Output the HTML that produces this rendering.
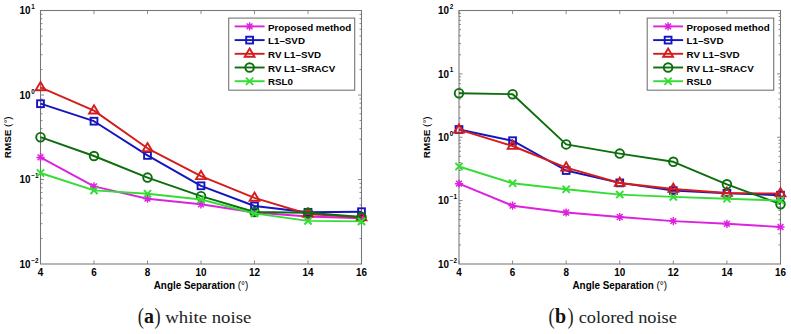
<!DOCTYPE html>
<html><head><meta charset="utf-8"><style>
html,body{margin:0;padding:0;background:#fff;width:791px;height:334px;overflow:hidden}
svg{display:block}
.tk{font-family:"Liberation Sans",sans-serif;font-weight:bold;font-size:9.9px;fill:#000}
.sup{font-family:"Liberation Sans",sans-serif;font-weight:bold;font-size:6.3px;fill:#000}
.lab{font-family:"Liberation Sans",sans-serif;font-weight:bold;font-size:9.9px;fill:#000}
.leg{font-family:"Liberation Sans",sans-serif;font-weight:bold;font-size:9.8px;fill:#000}
.cap{font-family:"Liberation Serif",serif;font-size:16.4px;fill:#222}
.capb{font-family:"Liberation Serif",serif;font-size:20px;font-weight:bold;fill:#111}
.par{font-family:"Liberation Serif",serif;font-size:20px;fill:#222}
.capl{font-family:"Liberation Serif",serif;font-size:20px;fill:#111}
</style></head><body>
<svg width="791" height="334" viewBox="0 0 791 334">
<rect width="791" height="334" fill="#fff"/>
<path d="M40.50 264.00v-3.5M40.50 10.50v3.5M94.00 264.00v-3.5M94.00 10.50v3.5M147.50 264.00v-3.5M147.50 10.50v3.5M201.00 264.00v-3.5M201.00 10.50v3.5M254.50 264.00v-3.5M254.50 10.50v3.5M308.00 264.00v-3.5M308.00 10.50v3.5M361.50 264.00v-3.5M361.50 10.50v3.5M40.50 69.56h2M361.50 69.56h-2M40.50 54.68h2M361.50 54.68h-2M40.50 44.13h2M361.50 44.13h-2M40.50 35.94h2M361.50 35.94h-2M40.50 29.25h2M361.50 29.25h-2M40.50 23.59h2M361.50 23.59h-2M40.50 18.69h2M361.50 18.69h-2M40.50 14.37h2M361.50 14.37h-2M40.50 95.00h3.5M361.50 95.00h-3.5M40.50 154.06h2M361.50 154.06h-2M40.50 139.18h2M361.50 139.18h-2M40.50 128.63h2M361.50 128.63h-2M40.50 120.44h2M361.50 120.44h-2M40.50 113.75h2M361.50 113.75h-2M40.50 108.09h2M361.50 108.09h-2M40.50 103.19h2M361.50 103.19h-2M40.50 98.87h2M361.50 98.87h-2M40.50 179.50h3.5M361.50 179.50h-3.5M40.50 238.56h2M361.50 238.56h-2M40.50 223.68h2M361.50 223.68h-2M40.50 213.13h2M361.50 213.13h-2M40.50 204.94h2M361.50 204.94h-2M40.50 198.25h2M361.50 198.25h-2M40.50 192.59h2M361.50 192.59h-2M40.50 187.69h2M361.50 187.69h-2M40.50 183.37h2M361.50 183.37h-2" stroke="#8a8a8a" stroke-width="1" fill="none"/>
<rect x="40.5" y="10.5" width="321.00" height="253.50" stroke="#767676" stroke-width="1.05" fill="none"/>
<text transform="translate(40.50 276.4) scale(1 1.01)" text-anchor="middle" class="tk">4</text>
<text transform="translate(94.00 276.4) scale(1 1.01)" text-anchor="middle" class="tk">6</text>
<text transform="translate(147.50 276.4) scale(1 1.01)" text-anchor="middle" class="tk">8</text>
<text transform="translate(201.00 276.4) scale(1 1.01)" text-anchor="middle" class="tk">10</text>
<text transform="translate(254.50 276.4) scale(1 1.01)" text-anchor="middle" class="tk">12</text>
<text transform="translate(308.00 276.4) scale(1 1.01)" text-anchor="middle" class="tk">14</text>
<text transform="translate(361.50 276.4) scale(1 1.01)" text-anchor="middle" class="tk">16</text>
<text transform="translate(30.50 14.30) scale(1 1.01)" text-anchor="end" class="tk">10</text>
<text transform="translate(31.20 9.00) scale(1 1.01)" class="sup">1</text>
<text transform="translate(30.50 98.80) scale(1 1.01)" text-anchor="end" class="tk">10</text>
<text transform="translate(31.20 93.50) scale(1 1.01)" class="sup">0</text>
<text transform="translate(30.50 183.30) scale(1 1.01)" text-anchor="end" class="tk">10</text>
<text transform="translate(31.20 178.00) scale(1 1.01)" class="sup">−1</text>
<text transform="translate(30.50 267.80) scale(1 1.01)" text-anchor="end" class="tk">10</text>
<text transform="translate(31.20 262.50) scale(1 1.01)" class="sup">−2</text>
<text transform="translate(201.00 288.5) scale(1 1.01)" text-anchor="middle" class="lab">Angle Separation <tspan font-weight="normal">(°)</tspan></text>
<text transform="translate(11.10 137.25) rotate(-90)" x="0" y="0" text-anchor="middle" class="lab">RMSE <tspan font-weight="normal">(°)</tspan></text>
<polyline points="40.50,157.40 94.00,186.40 147.50,198.70 201.00,204.30 254.50,212.50 308.00,216.50 361.50,218.20" stroke="#dd22dd" stroke-width="1.9" fill="none" stroke-linejoin="round"/>
<path d="M36.40 157.40H44.60M40.50 153.30V161.50M37.60 154.50L43.40 160.30M37.60 160.30L43.40 154.50" stroke="#dd22dd" stroke-width="1.45" fill="none"/>
<path d="M89.90 186.40H98.10M94.00 182.30V190.50M91.10 183.50L96.90 189.30M91.10 189.30L96.90 183.50" stroke="#dd22dd" stroke-width="1.45" fill="none"/>
<path d="M143.40 198.70H151.60M147.50 194.60V202.80M144.60 195.80L150.40 201.60M144.60 201.60L150.40 195.80" stroke="#dd22dd" stroke-width="1.45" fill="none"/>
<path d="M196.90 204.30H205.10M201.00 200.20V208.40M198.10 201.40L203.90 207.20M198.10 207.20L203.90 201.40" stroke="#dd22dd" stroke-width="1.45" fill="none"/>
<path d="M250.40 212.50H258.60M254.50 208.40V216.60M251.60 209.60L257.40 215.40M251.60 215.40L257.40 209.60" stroke="#dd22dd" stroke-width="1.45" fill="none"/>
<path d="M303.90 216.50H312.10M308.00 212.40V220.60M305.10 213.60L310.90 219.40M305.10 219.40L310.90 213.60" stroke="#dd22dd" stroke-width="1.45" fill="none"/>
<path d="M357.40 218.20H365.60M361.50 214.10V222.30M358.60 215.30L364.40 221.10M358.60 221.10L364.40 215.30" stroke="#dd22dd" stroke-width="1.45" fill="none"/>
<polyline points="40.50,103.70 94.00,121.20 147.50,155.40 201.00,185.80 254.50,206.00 308.00,212.30 361.50,211.70" stroke="#1414c0" stroke-width="1.9" fill="none" stroke-linejoin="round"/>
<rect x="37.10" y="100.30" width="6.80" height="6.80" stroke="#1414c0" stroke-width="1.9" fill="none"/>
<rect x="90.60" y="117.80" width="6.80" height="6.80" stroke="#1414c0" stroke-width="1.9" fill="none"/>
<rect x="144.10" y="152.00" width="6.80" height="6.80" stroke="#1414c0" stroke-width="1.9" fill="none"/>
<rect x="197.60" y="182.40" width="6.80" height="6.80" stroke="#1414c0" stroke-width="1.9" fill="none"/>
<rect x="251.10" y="202.60" width="6.80" height="6.80" stroke="#1414c0" stroke-width="1.9" fill="none"/>
<rect x="304.60" y="208.90" width="6.80" height="6.80" stroke="#1414c0" stroke-width="1.9" fill="none"/>
<rect x="358.10" y="208.30" width="6.80" height="6.80" stroke="#1414c0" stroke-width="1.9" fill="none"/>
<polyline points="40.50,87.30 94.00,110.60 147.50,148.30 201.00,176.20 254.50,197.90 308.00,214.00 361.50,217.30" stroke="#d41c1c" stroke-width="1.9" fill="none" stroke-linejoin="round"/>
<path d="M40.50 82.00L45.40 90.20H35.60Z" stroke="#d41c1c" stroke-width="1.9" fill="none" stroke-linejoin="miter"/>
<path d="M94.00 105.30L98.90 113.50H89.10Z" stroke="#d41c1c" stroke-width="1.9" fill="none" stroke-linejoin="miter"/>
<path d="M147.50 143.00L152.40 151.20H142.60Z" stroke="#d41c1c" stroke-width="1.9" fill="none" stroke-linejoin="miter"/>
<path d="M201.00 170.90L205.90 179.10H196.10Z" stroke="#d41c1c" stroke-width="1.9" fill="none" stroke-linejoin="miter"/>
<path d="M254.50 192.60L259.40 200.80H249.60Z" stroke="#d41c1c" stroke-width="1.9" fill="none" stroke-linejoin="miter"/>
<path d="M308.00 208.70L312.90 216.90H303.10Z" stroke="#d41c1c" stroke-width="1.9" fill="none" stroke-linejoin="miter"/>
<path d="M361.50 212.00L366.40 220.20H356.60Z" stroke="#d41c1c" stroke-width="1.9" fill="none" stroke-linejoin="miter"/>
<polyline points="40.50,137.20 94.00,156.00 147.50,177.60 201.00,196.20 254.50,212.00 308.00,212.80 361.50,217.00" stroke="#0c6e0c" stroke-width="1.9" fill="none" stroke-linejoin="round"/>
<circle cx="40.50" cy="137.20" r="4.3" stroke="#0c6e0c" stroke-width="1.9" fill="none"/>
<circle cx="94.00" cy="156.00" r="4.3" stroke="#0c6e0c" stroke-width="1.9" fill="none"/>
<circle cx="147.50" cy="177.60" r="4.3" stroke="#0c6e0c" stroke-width="1.9" fill="none"/>
<circle cx="201.00" cy="196.20" r="4.3" stroke="#0c6e0c" stroke-width="1.9" fill="none"/>
<circle cx="254.50" cy="212.00" r="4.3" stroke="#0c6e0c" stroke-width="1.9" fill="none"/>
<circle cx="308.00" cy="212.80" r="4.3" stroke="#0c6e0c" stroke-width="1.9" fill="none"/>
<circle cx="361.50" cy="217.00" r="4.3" stroke="#0c6e0c" stroke-width="1.9" fill="none"/>
<polyline points="40.50,173.00 94.00,190.40 147.50,193.70 201.00,199.50 254.50,213.40 308.00,220.90 361.50,221.40" stroke="#33dd33" stroke-width="1.9" fill="none" stroke-linejoin="round"/>
<path d="M36.90 169.40L44.10 176.60M36.90 176.60L44.10 169.40" stroke="#33dd33" stroke-width="1.9" fill="none"/>
<path d="M90.40 186.80L97.60 194.00M90.40 194.00L97.60 186.80" stroke="#33dd33" stroke-width="1.9" fill="none"/>
<path d="M143.90 190.10L151.10 197.30M143.90 197.30L151.10 190.10" stroke="#33dd33" stroke-width="1.9" fill="none"/>
<path d="M197.40 195.90L204.60 203.10M197.40 203.10L204.60 195.90" stroke="#33dd33" stroke-width="1.9" fill="none"/>
<path d="M250.90 209.80L258.10 217.00M250.90 217.00L258.10 209.80" stroke="#33dd33" stroke-width="1.9" fill="none"/>
<path d="M304.40 217.30L311.60 224.50M304.40 224.50L311.60 217.30" stroke="#33dd33" stroke-width="1.9" fill="none"/>
<path d="M357.90 217.80L365.10 225.00M357.90 225.00L365.10 217.80" stroke="#33dd33" stroke-width="1.9" fill="none"/>
<rect x="228.70" y="18.1" width="126.00" height="72.10" stroke="#767676" stroke-width="1.1" fill="#fff"/>
<path d="M234.70 26.40H264.60" stroke="#dd22dd" stroke-width="1.9"/>
<path d="M245.50 26.40H253.70M249.60 22.30V30.50M246.70 23.50L252.50 29.30M246.70 29.30L252.50 23.50" stroke="#dd22dd" stroke-width="1.45" fill="none"/>
<text transform="translate(268.00 30.60) scale(1 1.01)" class="leg">Proposed method</text>
<path d="M234.70 40.10H264.60" stroke="#1414c0" stroke-width="1.9"/>
<rect x="246.20" y="36.70" width="6.80" height="6.80" stroke="#1414c0" stroke-width="1.9" fill="none"/>
<text transform="translate(268.00 44.30) scale(1 1.01)" class="leg">L1–SVD</text>
<path d="M234.70 53.80H264.60" stroke="#d41c1c" stroke-width="1.9"/>
<path d="M249.60 48.50L254.50 56.70H244.70Z" stroke="#d41c1c" stroke-width="1.9" fill="none" stroke-linejoin="miter"/>
<text transform="translate(268.00 58.00) scale(1 1.01)" class="leg">RV L1–SVD</text>
<path d="M234.70 67.50H264.60" stroke="#0c6e0c" stroke-width="1.9"/>
<circle cx="249.60" cy="67.50" r="4.3" stroke="#0c6e0c" stroke-width="1.9" fill="none"/>
<text transform="translate(268.00 71.70) scale(1 1.01)" class="leg">RV L1–SRACV</text>
<path d="M234.70 81.20H264.60" stroke="#33dd33" stroke-width="1.9"/>
<path d="M246.00 77.60L253.20 84.80M246.00 84.80L253.20 77.60" stroke="#33dd33" stroke-width="1.9" fill="none"/>
<text transform="translate(268.00 85.40) scale(1 1.01)" class="leg">RSL0</text>
<path d="M459.00 264.00v-3.5M459.00 10.50v3.5M512.58 264.00v-3.5M512.58 10.50v3.5M566.17 264.00v-3.5M566.17 10.50v3.5M619.75 264.00v-3.5M619.75 10.50v3.5M673.33 264.00v-3.5M673.33 10.50v3.5M726.92 264.00v-3.5M726.92 10.50v3.5M780.50 264.00v-3.5M780.50 10.50v3.5M459.00 54.80h2M780.50 54.80h-2M459.00 43.64h2M780.50 43.64h-2M459.00 35.72h2M780.50 35.72h-2M459.00 29.58h2M780.50 29.58h-2M459.00 24.56h2M780.50 24.56h-2M459.00 20.32h2M780.50 20.32h-2M459.00 16.64h2M780.50 16.64h-2M459.00 13.40h2M780.50 13.40h-2M459.00 73.88h3.5M780.50 73.88h-3.5M459.00 118.17h2M780.50 118.17h-2M459.00 107.01h2M780.50 107.01h-2M459.00 99.09h2M780.50 99.09h-2M459.00 92.95h2M780.50 92.95h-2M459.00 87.93h2M780.50 87.93h-2M459.00 83.69h2M780.50 83.69h-2M459.00 80.02h2M780.50 80.02h-2M459.00 76.77h2M780.50 76.77h-2M459.00 137.25h3.5M780.50 137.25h-3.5M459.00 181.55h2M780.50 181.55h-2M459.00 170.39h2M780.50 170.39h-2M459.00 162.47h2M780.50 162.47h-2M459.00 156.33h2M780.50 156.33h-2M459.00 151.31h2M780.50 151.31h-2M459.00 147.07h2M780.50 147.07h-2M459.00 143.39h2M780.50 143.39h-2M459.00 140.15h2M780.50 140.15h-2M459.00 200.62h3.5M780.50 200.62h-3.5M459.00 244.92h2M780.50 244.92h-2M459.00 233.76h2M780.50 233.76h-2M459.00 225.84h2M780.50 225.84h-2M459.00 219.70h2M780.50 219.70h-2M459.00 214.68h2M780.50 214.68h-2M459.00 210.44h2M780.50 210.44h-2M459.00 206.77h2M780.50 206.77h-2M459.00 203.52h2M780.50 203.52h-2" stroke="#8a8a8a" stroke-width="1" fill="none"/>
<rect x="459.0" y="10.5" width="321.50" height="253.50" stroke="#767676" stroke-width="1.05" fill="none"/>
<text transform="translate(459.00 276.4) scale(1 1.01)" text-anchor="middle" class="tk">4</text>
<text transform="translate(512.58 276.4) scale(1 1.01)" text-anchor="middle" class="tk">6</text>
<text transform="translate(566.17 276.4) scale(1 1.01)" text-anchor="middle" class="tk">8</text>
<text transform="translate(619.75 276.4) scale(1 1.01)" text-anchor="middle" class="tk">10</text>
<text transform="translate(673.33 276.4) scale(1 1.01)" text-anchor="middle" class="tk">12</text>
<text transform="translate(726.92 276.4) scale(1 1.01)" text-anchor="middle" class="tk">14</text>
<text transform="translate(780.50 276.4) scale(1 1.01)" text-anchor="middle" class="tk">16</text>
<text transform="translate(449.00 14.30) scale(1 1.01)" text-anchor="end" class="tk">10</text>
<text transform="translate(449.70 9.00) scale(1 1.01)" class="sup">2</text>
<text transform="translate(449.00 77.67) scale(1 1.01)" text-anchor="end" class="tk">10</text>
<text transform="translate(449.70 72.38) scale(1 1.01)" class="sup">1</text>
<text transform="translate(449.00 141.05) scale(1 1.01)" text-anchor="end" class="tk">10</text>
<text transform="translate(449.70 135.75) scale(1 1.01)" class="sup">0</text>
<text transform="translate(449.00 204.43) scale(1 1.01)" text-anchor="end" class="tk">10</text>
<text transform="translate(449.70 199.12) scale(1 1.01)" class="sup">−1</text>
<text transform="translate(449.00 267.80) scale(1 1.01)" text-anchor="end" class="tk">10</text>
<text transform="translate(449.70 262.50) scale(1 1.01)" class="sup">−2</text>
<text transform="translate(619.75 288.5) scale(1 1.01)" text-anchor="middle" class="lab">Angle Separation <tspan font-weight="normal">(°)</tspan></text>
<text transform="translate(429.60 137.25) rotate(-90)" x="0" y="0" text-anchor="middle" class="lab">RMSE <tspan font-weight="normal">(°)</tspan></text>
<polyline points="459.00,183.70 512.58,205.70 566.17,212.50 619.75,217.00 673.33,221.10 726.92,223.80 780.50,227.00" stroke="#dd22dd" stroke-width="1.9" fill="none" stroke-linejoin="round"/>
<path d="M454.90 183.70H463.10M459.00 179.60V187.80M456.10 180.80L461.90 186.60M456.10 186.60L461.90 180.80" stroke="#dd22dd" stroke-width="1.45" fill="none"/>
<path d="M508.48 205.70H516.68M512.58 201.60V209.80M509.68 202.80L515.48 208.60M509.68 208.60L515.48 202.80" stroke="#dd22dd" stroke-width="1.45" fill="none"/>
<path d="M562.07 212.50H570.27M566.17 208.40V216.60M563.27 209.60L569.07 215.40M563.27 215.40L569.07 209.60" stroke="#dd22dd" stroke-width="1.45" fill="none"/>
<path d="M615.65 217.00H623.85M619.75 212.90V221.10M616.85 214.10L622.65 219.90M616.85 219.90L622.65 214.10" stroke="#dd22dd" stroke-width="1.45" fill="none"/>
<path d="M669.23 221.10H677.43M673.33 217.00V225.20M670.43 218.20L676.23 224.00M670.43 224.00L676.23 218.20" stroke="#dd22dd" stroke-width="1.45" fill="none"/>
<path d="M722.82 223.80H731.02M726.92 219.70V227.90M724.02 220.90L729.82 226.70M724.02 226.70L729.82 220.90" stroke="#dd22dd" stroke-width="1.45" fill="none"/>
<path d="M776.40 227.00H784.60M780.50 222.90V231.10M777.60 224.10L783.40 229.90M777.60 229.90L783.40 224.10" stroke="#dd22dd" stroke-width="1.45" fill="none"/>
<polyline points="459.00,129.50 512.58,140.70 566.17,170.50 619.75,182.90 673.33,190.60 726.92,193.30 780.50,195.20" stroke="#1414c0" stroke-width="1.9" fill="none" stroke-linejoin="round"/>
<rect x="455.60" y="126.10" width="6.80" height="6.80" stroke="#1414c0" stroke-width="1.9" fill="none"/>
<rect x="509.18" y="137.30" width="6.80" height="6.80" stroke="#1414c0" stroke-width="1.9" fill="none"/>
<rect x="562.77" y="167.10" width="6.80" height="6.80" stroke="#1414c0" stroke-width="1.9" fill="none"/>
<rect x="616.35" y="179.50" width="6.80" height="6.80" stroke="#1414c0" stroke-width="1.9" fill="none"/>
<rect x="669.93" y="187.20" width="6.80" height="6.80" stroke="#1414c0" stroke-width="1.9" fill="none"/>
<rect x="723.52" y="189.90" width="6.80" height="6.80" stroke="#1414c0" stroke-width="1.9" fill="none"/>
<rect x="777.10" y="191.80" width="6.80" height="6.80" stroke="#1414c0" stroke-width="1.9" fill="none"/>
<polyline points="459.00,129.70 512.58,146.00 566.17,167.60 619.75,183.00 673.33,189.00 726.92,193.00 780.50,193.50" stroke="#d41c1c" stroke-width="1.9" fill="none" stroke-linejoin="round"/>
<path d="M459.00 124.40L463.90 132.60H454.10Z" stroke="#d41c1c" stroke-width="1.9" fill="none" stroke-linejoin="miter"/>
<path d="M512.58 140.70L517.48 148.90H507.68Z" stroke="#d41c1c" stroke-width="1.9" fill="none" stroke-linejoin="miter"/>
<path d="M566.17 162.30L571.07 170.50H561.27Z" stroke="#d41c1c" stroke-width="1.9" fill="none" stroke-linejoin="miter"/>
<path d="M619.75 177.70L624.65 185.90H614.85Z" stroke="#d41c1c" stroke-width="1.9" fill="none" stroke-linejoin="miter"/>
<path d="M673.33 183.70L678.23 191.90H668.43Z" stroke="#d41c1c" stroke-width="1.9" fill="none" stroke-linejoin="miter"/>
<path d="M726.92 187.70L731.82 195.90H722.02Z" stroke="#d41c1c" stroke-width="1.9" fill="none" stroke-linejoin="miter"/>
<path d="M780.50 188.20L785.40 196.40H775.60Z" stroke="#d41c1c" stroke-width="1.9" fill="none" stroke-linejoin="miter"/>
<polyline points="459.00,93.20 512.58,94.20 566.17,144.40 619.75,153.60 673.33,161.80 726.92,184.30 780.50,204.20" stroke="#0c6e0c" stroke-width="1.9" fill="none" stroke-linejoin="round"/>
<circle cx="459.00" cy="93.20" r="4.3" stroke="#0c6e0c" stroke-width="1.9" fill="none"/>
<circle cx="512.58" cy="94.20" r="4.3" stroke="#0c6e0c" stroke-width="1.9" fill="none"/>
<circle cx="566.17" cy="144.40" r="4.3" stroke="#0c6e0c" stroke-width="1.9" fill="none"/>
<circle cx="619.75" cy="153.60" r="4.3" stroke="#0c6e0c" stroke-width="1.9" fill="none"/>
<circle cx="673.33" cy="161.80" r="4.3" stroke="#0c6e0c" stroke-width="1.9" fill="none"/>
<circle cx="726.92" cy="184.30" r="4.3" stroke="#0c6e0c" stroke-width="1.9" fill="none"/>
<circle cx="780.50" cy="204.20" r="4.3" stroke="#0c6e0c" stroke-width="1.9" fill="none"/>
<polyline points="459.00,166.50 512.58,183.30 566.17,189.20 619.75,194.60 673.33,196.90 726.92,198.70 780.50,200.60" stroke="#33dd33" stroke-width="1.9" fill="none" stroke-linejoin="round"/>
<path d="M455.40 162.90L462.60 170.10M455.40 170.10L462.60 162.90" stroke="#33dd33" stroke-width="1.9" fill="none"/>
<path d="M508.98 179.70L516.18 186.90M508.98 186.90L516.18 179.70" stroke="#33dd33" stroke-width="1.9" fill="none"/>
<path d="M562.57 185.60L569.77 192.80M562.57 192.80L569.77 185.60" stroke="#33dd33" stroke-width="1.9" fill="none"/>
<path d="M616.15 191.00L623.35 198.20M616.15 198.20L623.35 191.00" stroke="#33dd33" stroke-width="1.9" fill="none"/>
<path d="M669.73 193.30L676.93 200.50M669.73 200.50L676.93 193.30" stroke="#33dd33" stroke-width="1.9" fill="none"/>
<path d="M723.32 195.10L730.52 202.30M723.32 202.30L730.52 195.10" stroke="#33dd33" stroke-width="1.9" fill="none"/>
<path d="M776.90 197.00L784.10 204.20M776.90 204.20L784.10 197.00" stroke="#33dd33" stroke-width="1.9" fill="none"/>
<rect x="647.20" y="18.1" width="126.50" height="72.10" stroke="#767676" stroke-width="1.1" fill="#fff"/>
<path d="M653.20 26.40H683.10" stroke="#dd22dd" stroke-width="1.9"/>
<path d="M664.00 26.40H672.20M668.10 22.30V30.50M665.20 23.50L671.00 29.30M665.20 29.30L671.00 23.50" stroke="#dd22dd" stroke-width="1.45" fill="none"/>
<text transform="translate(686.50 30.60) scale(1 1.01)" class="leg">Proposed method</text>
<path d="M653.20 40.10H683.10" stroke="#1414c0" stroke-width="1.9"/>
<rect x="664.70" y="36.70" width="6.80" height="6.80" stroke="#1414c0" stroke-width="1.9" fill="none"/>
<text transform="translate(686.50 44.30) scale(1 1.01)" class="leg">L1–SVD</text>
<path d="M653.20 53.80H683.10" stroke="#d41c1c" stroke-width="1.9"/>
<path d="M668.10 48.50L673.00 56.70H663.20Z" stroke="#d41c1c" stroke-width="1.9" fill="none" stroke-linejoin="miter"/>
<text transform="translate(686.50 58.00) scale(1 1.01)" class="leg">RV L1–SVD</text>
<path d="M653.20 67.50H683.10" stroke="#0c6e0c" stroke-width="1.9"/>
<circle cx="668.10" cy="67.50" r="4.3" stroke="#0c6e0c" stroke-width="1.9" fill="none"/>
<text transform="translate(686.50 71.70) scale(1 1.01)" class="leg">RV L1–SRACV</text>
<path d="M653.20 81.20H683.10" stroke="#33dd33" stroke-width="1.9"/>
<path d="M664.50 77.60L671.70 84.80M664.50 84.80L671.70 77.60" stroke="#33dd33" stroke-width="1.9" fill="none"/>
<text transform="translate(686.50 85.40) scale(1 1.01)" class="leg">RSL0</text>
<text transform="translate(137.80 324.2) scale(0.92 1.2)" class="par">(</text><text transform="translate(143.90 322.9) scale(1 1.01)" class="capb">a</text><text transform="translate(154.60 324.2) scale(0.92 1.2)" class="par">)</text><text transform="translate(165.30 322.9) scale(1.145 1)" class="cap">white noise</text>
<text transform="translate(548.40 324.2) scale(0.92 1.2)" class="par">(</text><text transform="translate(554.90 322.9) scale(1 1.01)" class="capb">b</text><text transform="translate(567.60 324.2) scale(0.92 1.2)" class="par">)</text><text transform="translate(578.70 322.9) scale(1.118 1)" class="cap">colored noise</text>
</svg>
</body></html>
